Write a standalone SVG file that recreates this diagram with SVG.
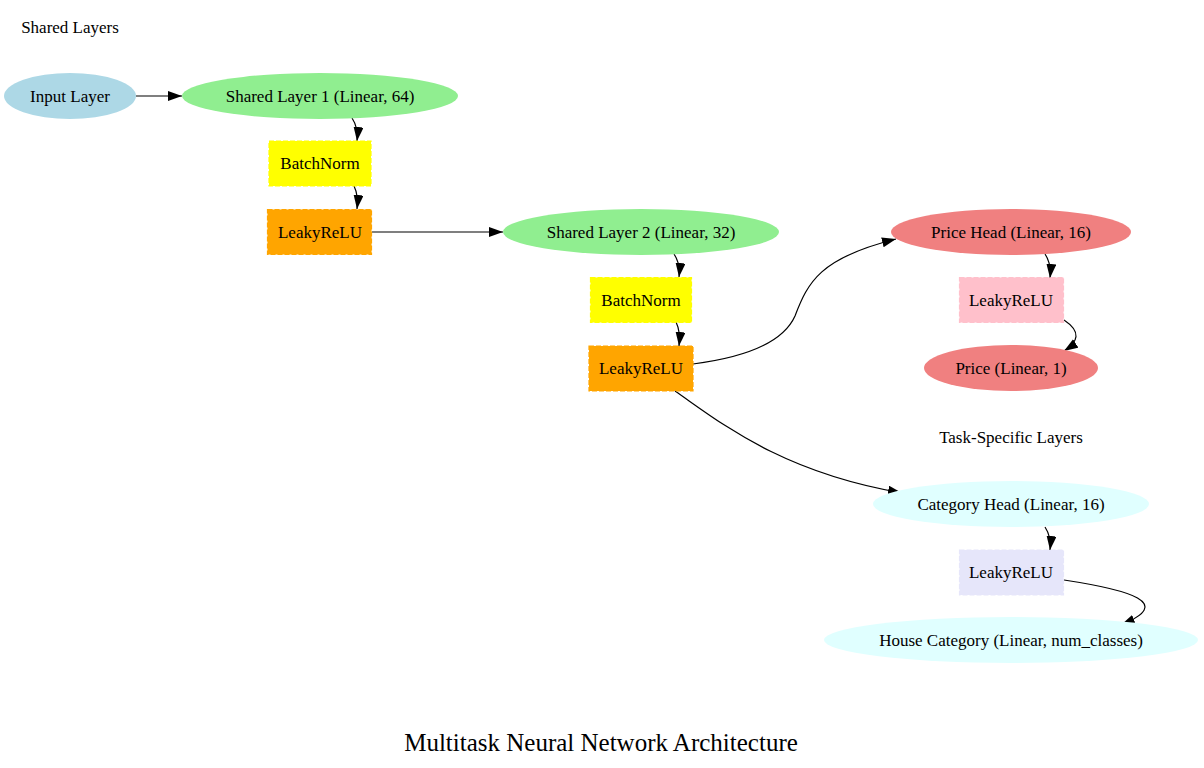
<svg xmlns="http://www.w3.org/2000/svg" width="1204" height="768" viewBox="0 0 1204 768">
<style>
text{font-family:"Liberation Serif","Times New Roman",serif;font-size:17px;fill:#000;text-anchor:middle;dominant-baseline:central}
.e{stroke:#000;stroke-width:1.2;fill:none;marker-end:url(#ah)}
.box{stroke-dasharray:5,2;stroke-width:1.2}
</style>
<defs>
<marker id="ah" markerUnits="userSpaceOnUse" markerWidth="16" markerHeight="12" refX="14" refY="5" orient="auto">
<path d="M0,0 L14,5 L0,10 Z" fill="#000"/>
</marker>
</defs>
<rect width="1204" height="768" fill="#fff"/>
<text x="70" y="27">Shared Layers</text>
<text x="1011" y="437">Task-Specific Layers</text>
<text x="601" y="742" style="font-size:25px">Multitask Neural Network Architecture</text>
<g id="connectors">
<path class="e" d="M136,96 L182,96"/>
<path class="e" d="M352,118 C356,124 358,132 357,141"/>
<path class="e" d="M354,186 C357,192 358,200 357,209"/>
<path class="e" d="M372,232 L503,232"/>
<path class="e" d="M674,254 C678,260 680,268 679,277"/>
<path class="e" d="M676,322 C679,328 680,337 679,346"/>
<path class="e" d="M693,364 C740,358 782,345 795,316 C808,282 820,258 896,239"/>
<path class="e" d="M675,391 C720,422 780,472 902,493"/>
<path class="e" d="M1045,254 C1049,260 1051,268 1050,278"/>
<path class="e" d="M1064,320 C1082,332 1078,342 1064,351"/>
<path class="e" d="M1045,527 C1049,533 1051,541 1050,550"/>
<path class="e" d="M1064,580 C1130,590 1175,603 1121,625"/>
</g>
<g id="input"><ellipse cx="70" cy="96" rx="66" ry="23" fill="#add8e6"/><text x="70" y="96">Input Layer</text></g>
<g id="shared1"><ellipse cx="320" cy="96" rx="138" ry="23" fill="#90ee90"/><text x="320" y="96">Shared Layer 1 (Linear, 64)</text></g>
<g id="bn1"><rect class="box" x="269" y="141" width="102" height="45" fill="#ffff00" stroke="#ffff00"/><text x="320" y="163.5">BatchNorm</text></g>
<g id="lr1"><rect class="box" x="267.5" y="209.5" width="104" height="45" fill="#ffa500" stroke="#ffa500"/><text x="320" y="232">LeakyReLU</text></g>
<g id="shared2"><ellipse cx="641" cy="232" rx="138" ry="23" fill="#90ee90"/><text x="641" y="232">Shared Layer 2 (Linear, 32)</text></g>
<g id="bn2"><rect class="box" x="590.5" y="277.5" width="101" height="45" fill="#ffff00" stroke="#ffff00"/><text x="641" y="300">BatchNorm</text></g>
<g id="lr2"><rect class="box" x="589" y="346" width="104" height="45" fill="#ffa500" stroke="#ffa500"/><text x="641" y="368.5">LeakyReLU</text></g>
<g id="pricehead"><ellipse cx="1011" cy="232" rx="120" ry="23" fill="#f08080"/><text x="1011" y="232">Price Head (Linear, 16)</text></g>
<g id="lr3"><rect class="box" x="959.5" y="277.5" width="104" height="45" fill="#ffc0cb" stroke="#ffc0cb"/><text x="1011" y="300">LeakyReLU</text></g>
<g id="price"><ellipse cx="1011" cy="368" rx="87" ry="23" fill="#f08080"/><text x="1011" y="368">Price (Linear, 1)</text></g>
<g id="cathead"><ellipse cx="1011" cy="504" rx="138" ry="23" fill="#e0ffff"/><text x="1011" y="504">Category Head (Linear, 16)</text></g>
<g id="lr4"><rect class="box" x="959.5" y="550" width="104" height="45" fill="#e6e6fa" stroke="#e6e6fa"/><text x="1011" y="572.5">LeakyReLU</text></g>
<g id="housecat"><ellipse cx="1011" cy="640" rx="187" ry="23" fill="#e0ffff"/><text x="1011" y="640">House Category (Linear, num_classes)</text></g>
</svg>
